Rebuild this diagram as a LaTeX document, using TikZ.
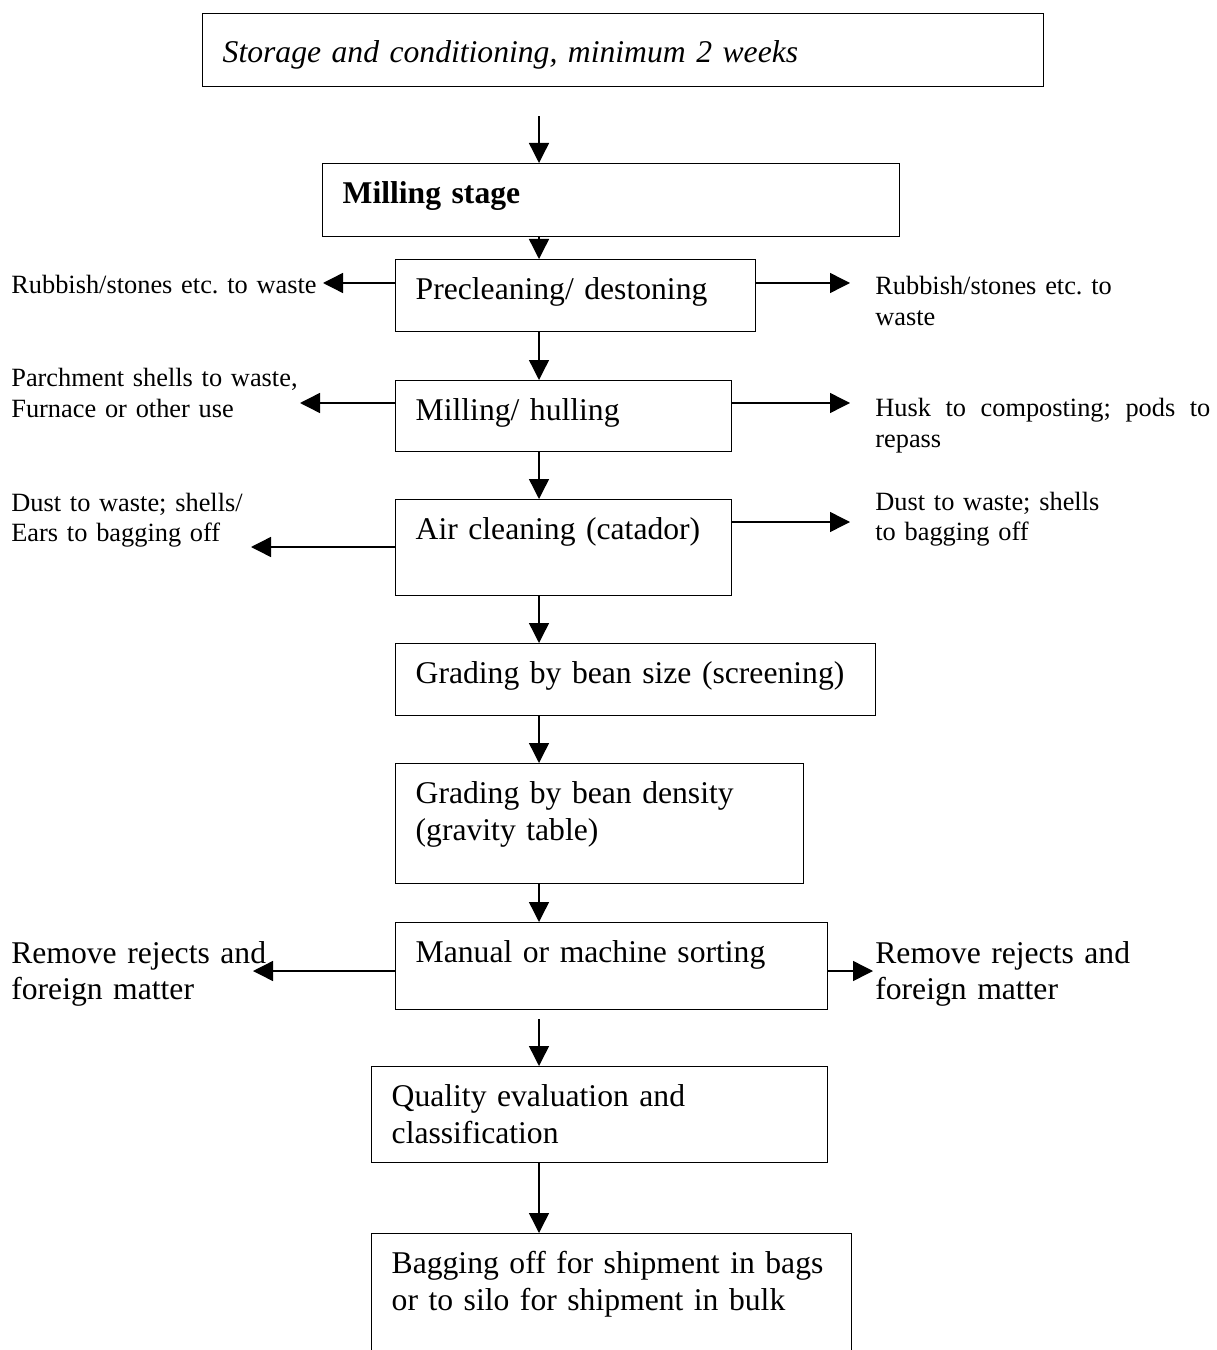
\documentclass[tikz,border=0pt]{standalone}
\usepackage{fontspec}
\setmainfont{Liberation Serif}
\usetikzlibrary{arrows.meta}
\frenchspacing

\begin{document}
\begin{tikzpicture}[
    every node/.style={font=\fontsize{18}{21}\selectfont},
    stagebox/.style={draw, line width=0.8pt, anchor=north west, align=left, inner xsep=0.4cm, inner ysep=0pt, text height=0.8cm},
    sidenote/.style={anchor=base west, align=left, inner sep=0pt, font=\fontsize{15}{17.2}\selectfont},
    bignote/.style={anchor=base west, align=left, inner sep=0pt},
    flowedge/.style={-{Triangle[length=0.4cm, width=0.4cm]}, line width=0.8pt}
]
    \clip (0,0) rectangle (24.32,-27);
    \coordinate (spine) at (10.78,0);
    % main column of stages
    \node[stagebox, text width=16.02cm, text height=0.98cm, text depth=0.48cm] (store) at (4.04,-0.26) {\itshape Storage and conditioning, minimum 2 weeks};
    \node[stagebox, text width=10.74cm, text depth=0.66cm] (mill) at (6.44,-3.26) {\bfseries Milling stage};
    \node[stagebox, text width=6.4cm, text depth=0.64cm] (preclean) at (7.9,-5.18) {Precleaning/ destoning};
    \node[stagebox, text width=5.92cm, text depth=0.62cm] (hull) at (7.9,-7.6) {Milling/ hulling};
    \node[stagebox, text width=5.92cm, text depth=1.12cm] (aircl) at (7.9,-9.98) {Air cleaning (catador)};
    \node[stagebox, text width=8.8cm, text depth=0.64cm] (sizeg) at (7.9,-12.86) {Grading by bean size (screening)};
    \node[stagebox, text width=7.36cm, text depth=1.6cm] (densg) at (7.9,-15.26) {Grading by bean density\\(gravity table)};
    \node[stagebox, text width=7.84cm, text depth=0.94cm] (sorting) at (7.9,-18.44) {Manual or machine sorting};
    \node[stagebox, text width=8.32cm, text depth=1.12cm] (quality) at (7.42,-21.32) {Quality evaluation and\\classification};
    \node[stagebox, text width=8.8cm, text depth=2.8cm] (bagging) at (7.42,-24.66) {Bagging off for shipment in bags\\or to silo for shipment in bulk};

    % side products
    \node[sidenote, text width=6.6cm] (precW) at (0.22,-5.88) {Rubbish/stones etc. to waste};
    \node[sidenote, text width=6.7cm] (precE) at (17.5,-5.9) {Rubbish/stones etc. to\\waste};
    \node[sidenote, text width=6.6cm] (hullW) at (0.22,-7.74) {Parchment shells to waste,\\Furnace or other use};
    \node[sidenote, text width=6.7cm, align=justify] (hullE) at (17.5,-8.34) {Husk to composting; pods to \mbox{repass}};
    \node[sidenote, text width=6.6cm] (airW) at (0.22,-10.22) {Dust to waste; shells/\\Ears to bagging off};
    \node[sidenote, text width=6.7cm] (airE) at (17.5,-10.2) {Dust to waste; shells\\to bagging off};
    \node[bignote, text width=5.8cm] (sortW) at (0.22,-19.26) {Remove rejects and\\foreign matter};
    \node[bignote, text width=6.5cm] (sortE) at (17.5,-19.26) {Remove rejects and\\foreign matter};

    \coordinate (precWtip) at (6.46,-5.66);
    \coordinate (precEtip) at (17.0,-5.66);
    \coordinate (hullWtip) at (6.0,-8.06);
    \coordinate (hullEtip) at (17.0,-8.06);
    \coordinate (airWtip) at (5.02,-10.94);
    \coordinate (airEtip) at (17.0,-10.44);
    \coordinate (sortWtip) at (5.06,-19.42);
    \coordinate (sortEtip) at (17.46,-19.42);

    % flow down the column
    \draw[flowedge, shorten <=0.58cm] (store.south -| spine) -- (mill.north -| spine);
    \draw[flowedge] (mill.south -| spine) -- (preclean.north -| spine);
    \draw[flowedge] (preclean.south -| spine) -- (hull.north -| spine);
    \draw[flowedge] (hull.south -| spine) -- (aircl.north -| spine);
    \draw[flowedge] (aircl.south -| spine) -- (sizeg.north -| spine);
    \draw[flowedge] (sizeg.south -| spine) -- (densg.north -| spine);
    \draw[flowedge] (densg.south -| spine) -- (sorting.north -| spine);
    \draw[flowedge, shorten <=0.18cm] (sorting.south -| spine) -- (quality.north -| spine);
    \draw[flowedge] (quality.south -| spine) -- (bagging.north -| spine);

    % side arrows
    \draw[flowedge] (preclean.west |- precWtip) -- (precWtip);
    \draw[flowedge] (preclean.east |- precEtip) -- (precEtip);
    \draw[flowedge] (hull.west |- hullWtip) -- (hullWtip);
    \draw[flowedge] (hull.east |- hullEtip) -- (hullEtip);
    \draw[flowedge] (aircl.west |- airWtip) -- (airWtip);
    \draw[flowedge] (aircl.east |- airEtip) -- (airEtip);
    \draw[flowedge] (sorting.west |- sortWtip) -- (sortWtip);
    \draw[flowedge] (sorting.east |- sortEtip) -- (sortEtip);
\end{tikzpicture}
\end{document}
